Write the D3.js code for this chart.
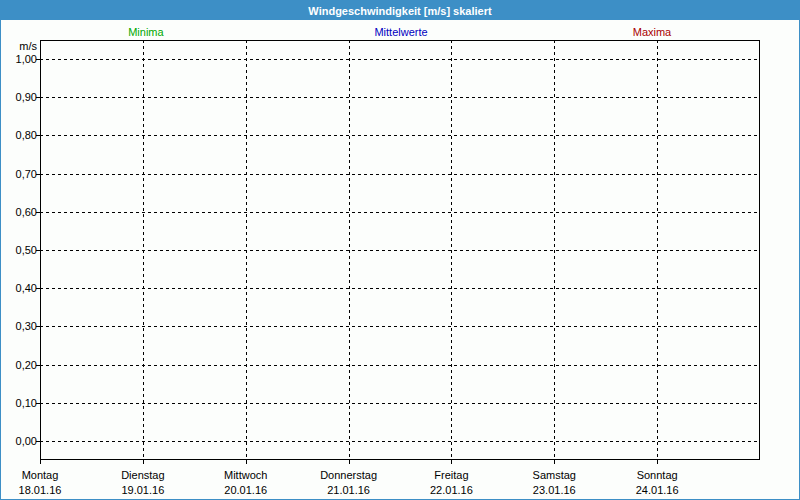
<!DOCTYPE html>
<html><head><meta charset="utf-8">
<script src="https://cdn.jsdelivr.net/npm/d3@7"></script>
<style>
html,body{margin:0;padding:0;background:#fff;}
svg text{font-family:"Liberation Sans",Arial,sans-serif;font-size:11px;}
</style></head>
<body>
<script>
const title = "Windgeschwindigkeit [m/s] skaliert";
const dayNames = ["Montag","Dienstag","Mittwoch","Donnerstag","Freitag","Samstag","Sonntag"];
const dates = ["18.01.16","19.01.16","20.01.16","21.01.16","22.01.16","23.01.16","24.01.16"];
const yTicks = [0,0.1,0.2,0.3,0.4,0.5,0.6,0.7,0.8,0.9,1.0];
const seriesNames = ["Minima","Mittelwerte","Maxima"];
const seriesColors = ["#00a800","#0000c0","#a80000"];
const seriesLabelDay = [1.03,3.51,5.95];
const unit = "m/s";

const W=800,H=500;
const svg=d3.select("body").append("svg").attr("width",W).attr("height",H);
svg.append("rect").attr("width",W).attr("height",H).attr("fill","#fcfefc");
// border
svg.append("rect").attr("x",0.5).attr("y",0.5).attr("width",W-1).attr("height",H-1)
  .attr("fill","none").attr("stroke","#3d8fc6").attr("stroke-width",1);
svg.append("rect").attr("x",0).attr("y",0).attr("width",W).attr("height",20).attr("fill","#3d8fc6");
svg.append("text").attr("x",400).attr("y",14.5).attr("text-anchor","middle")
  .attr("fill","#fff").style("font-weight","bold").text(title);

const L=40,R=760,T=40,B=460;
const x=d3.scaleLinear().domain([0,7]).range([L,R]);
const y=d3.scaleLinear().domain([-0.05,1.05]).range([B,T]);
const fmt=v=>d3.format(".2f")(v).replace(".",",");

const g=svg.append("g");
// grid horizontal
g.selectAll("line.hg").data(yTicks).enter().append("line")
  .attr("x1",L).attr("x2",R).attr("y1",d=>Math.round(y(d))+0.5).attr("y2",d=>Math.round(y(d))+0.5)
  .attr("stroke","#000").attr("stroke-dasharray","3,3");
// grid vertical
g.selectAll("line.vg").data(d3.range(1,7)).enter().append("line")
  .attr("y1",T).attr("y2",B).attr("x1",d=>Math.round(x(d))+0.5).attr("x2",d=>Math.round(x(d))+0.5)
  .attr("stroke","#000").attr("stroke-dasharray","3,3");
// frame
svg.append("rect").attr("x",L+0.5).attr("y",T+0.5).attr("width",R-L-1).attr("height",B-T-1)
  .attr("fill","none").attr("stroke","#000").attr("stroke-width",1);
// y ticks
svg.selectAll("line.yt").data(yTicks).enter().append("line")
  .attr("x1",L-4).attr("x2",L).attr("y1",d=>Math.round(y(d))+0.5).attr("y2",d=>Math.round(y(d))+0.5)
  .attr("stroke","#000");
svg.selectAll("text.yl").data(yTicks).enter().append("text")
  .attr("x",37).attr("y",d=>Math.round(y(d))+4).attr("text-anchor","end").attr("fill","#000").text(fmt);
svg.append("text").attr("x",37).attr("y",50).attr("text-anchor","end").attr("fill","#000").text(unit);
// x ticks
svg.selectAll("line.xt").data(d3.range(0,7)).enter().append("line")
  .attr("x1",d=>Math.round(x(d))+0.5).attr("x2",d=>Math.round(x(d))+0.5).attr("y1",B).attr("y2",B+4)
  .attr("stroke","#000");
svg.selectAll("text.xd").data(dayNames).enter().append("text")
  .attr("x",(d,i)=>x(i)).attr("y",479).attr("text-anchor","middle").attr("fill","#000").text(d=>d);
svg.selectAll("text.xdt").data(dates).enter().append("text")
  .attr("x",(d,i)=>x(i)).attr("y",494).attr("text-anchor","middle").attr("fill","#000").text(d=>d);
// series labels
svg.selectAll("text.sl").data(seriesNames).enter().append("text")
  .attr("x",(d,i)=>x(seriesLabelDay[i])).attr("y",36).attr("text-anchor","middle")
  .attr("fill",(d,i)=>seriesColors[i]).text(d=>d);
</script>
</body></html>
